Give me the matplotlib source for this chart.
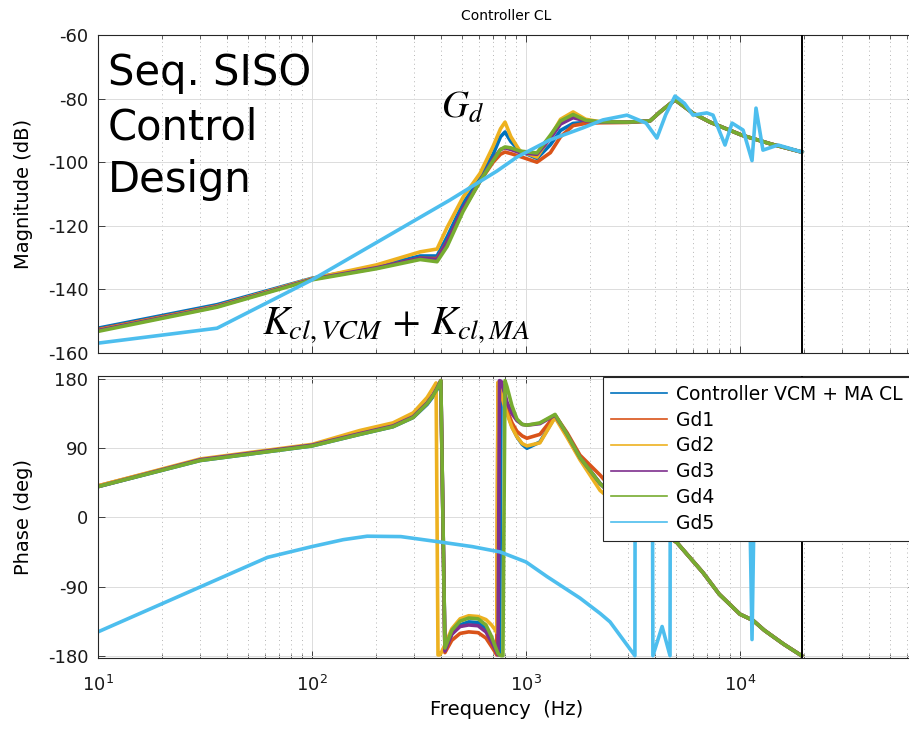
import numpy as np
import matplotlib.pyplot as plt
from matplotlib.ticker import LogLocator, NullFormatter

plt.rcParams['font.family'] = ['DejaVu Sans']
plt.rcParams['mathtext.fontset'] = 'stix'
plt.rcParams['axes.unicode_minus'] = False

labels = ['Controller VCM + MA CL', 'Gd1', 'Gd2', 'Gd3', 'Gd4', 'Gd5']
colors = ['#0072BD', '#D95319', '#EDB120', '#7E2F8E', '#77AC30', '#4DBEEE']

f_nyq = 19400

# magnitude (dB), controller + Gd1..Gd4 share the same frequency points
mag_f = [10, 36, 100, 200, 320, 384, 428, 508, 610, 702, 760, 798, 850, 937, 1125,
         1300, 1450, 1660, 1900, 2220, 3000, 3800, 4230, 4970, 6030, 7240, 10200, 14000, 19400]
mag_ctrl = [-152.2, -144.8, -136.5, -132.8, -129.5, -129.5, -123.5, -113.0, -105.0, -97.5,
            -92.0, -90.5, -93.5, -96.5, -98.8, -94.5, -90.0, -87.8, -87.5, -87.4,
            -87.4, -87.0, -84.2, -80.4, -84.6, -87.4, -91.5, -94.3, -96.8]
mag_gd1 = [-152.6, -145.2, -136.7, -133.3, -130.2, -130.3, -125.0, -115.0, -106.0, -100.0,
           -97.5, -96.8, -97.3, -98.2, -100.0, -97.0, -92.0, -88.5, -87.8, -87.6,
           -87.5, -87.0, -84.2, -80.4, -84.6, -87.4, -91.5, -94.3, -96.8]
mag_gd2 = [-152.8, -145.3, -136.6, -132.3, -128.2, -127.3, -120.5, -111.0, -103.5, -95.0,
           -89.5, -87.4, -92.0, -96.5, -98.4, -92.0, -86.5, -84.2, -86.5, -87.3,
           -87.4, -87.0, -84.2, -80.4, -84.6, -87.4, -91.5, -94.3, -96.8]
mag_gd3 = [-152.9, -145.4, -136.8, -133.2, -130.2, -130.6, -125.0, -114.5, -106.0, -99.0,
           -96.0, -95.5, -96.0, -97.0, -97.5, -92.5, -88.0, -86.0, -87.0, -87.4,
           -87.4, -87.0, -84.2, -80.4, -84.6, -87.4, -91.5, -94.3, -96.8]
mag_gd4 = [-153.2, -145.6, -137.0, -133.5, -130.6, -131.3, -126.5, -115.5, -106.0, -99.5,
           -96.0, -95.2, -95.5, -96.5, -97.1, -91.5, -87.0, -85.0, -86.8, -87.3,
           -87.4, -87.0, -84.2, -80.4, -84.6, -87.4, -91.5, -94.3, -96.8]

mag5_f = [10, 36, 100, 441, 731, 907, 1294, 1845, 2290, 2965, 3640, 4090, 4500, 4970,
          5500, 6030, 7000, 7480, 8510, 9180, 10340, 11380, 11880, 12800, 15060, 16750, 19400]
mag_gd5 = [-156.9, -152.2, -137.0, -111.9, -102.8, -98.4, -93.0, -89.2, -86.7, -85.2,
           -87.7, -92.4, -85.0, -79.2, -81.5, -85.2, -84.5, -85.2, -94.6, -87.7,
           -89.9, -99.5, -83.0, -96.2, -94.6, -95.5, -96.8]

# phase (deg), wrapped to +-180
ph_f = [10, 30, 100, 167, 239, 297, 345, 367, 380, 388, 394, 400, 418, 450, 492, 540,
        597, 650, 690, 716, 730, 740, 752, 765, 780, 798, 815, 860, 907, 960, 1010, 1161,
        1367, 1557, 1787, 2220, 3000, 4000, 5080, 6720, 8000, 10000, 11500, 13000, 16000, 19400]
ph_ctrl = [40, 74, 93, 108, 118, 130, 147, 157, 164, 169, 173, 177, -172, -152, -140, -136,
           -137, -145, -158, -168, -174, -178, -179, 176, 165, 150, 138, 118, 105, 95, 90, 98,
           131, 108, 78, 44, 10, -12, -33, -72, -100, -126, -134, -147, -165, -180]
ph_gd1 = [41, 75, 94, 109, 119, 131, 149, 159, 166, 171, 175, 178, -176, -160, -151, -149,
          -150, -157, -168, -175, -179, 172, 168, 162, 155, 147, 140, 123, 112, 106, 103, 108,
          133, 110, 81, 55, 14, -10, -33, -72, -100, -126, -134, -147, -165, -180]
ph_gd2 = [41, 76, 95, 113, 123, 136, 156, 168, 175, -179, -179, -177, -166, -145, -132, -128,
          -129, -133, -140, -146, -150, 176, 170, 162, 152, 143, 135, 117, 105, 96, 93, 97,
          130, 104, 75, 35, 5, -14, -33, -72, -100, -126, -134, -147, -165, -180]
ph_gd3 = [40, 75, 94, 109, 119, 131, 149, 159, 166, 171, 175, 178, -174, -152, -142, -140,
          -141, -149, -162, -171, -176, -179, 178, 177, 170, 160, 150, 135, 126, 121, 120, 122,
          133, 108, 78, 44, 10, -12, -33, -72, -100, -126, -134, -147, -165, -180]
ph_gd4 = [40, 74, 93, 108, 118, 130, 148, 158, 165, 170, 174, 178, -170, -147, -135, -131,
          -132, -140, -155, -167, -173, -177, -179, -180, -180, 178, 170, 145, 128, 121, 120, 123,
          134, 108, 78, 44, 10, -12, -33, -72, -100, -126, -134, -147, -165, -180]

ph5_f = [10, 62, 100, 140, 181, 260, 396, 560, 757, 1000, 1253, 1787, 2220, 2470, 3228, 3240,
         3600, 3900, 3917, 4325, 4710, 4730, 6000, 9000, 11100, 11380, 11650, 15000, 19400]
ph_gd5 = [-149, -52, -38, -29, -24.5, -25, -32, -38, -45, -58, -77, -105, -125, -136, -180, 180,
          100, 20, -180, -142, -180, 180, 90, 40, 20, -159, 20, 10, 0]

mag_series = [(mag_f, mag_ctrl), (mag_f, mag_gd1), (mag_f, mag_gd2), (mag_f, mag_gd3),
              (mag_f, mag_gd4), (mag5_f, mag_gd5)]
ph_series = [(ph_f, ph_ctrl), (ph_f, ph_gd1), (ph_f, ph_gd2), (ph_f, ph_gd3),
             (ph_f, ph_gd4), (ph5_f, ph_gd5)]

W, H = 909, 731
fig = plt.figure(figsize=(W / 100, H / 100), dpi=100)
x_right = 915
ax1 = fig.add_axes([98 / W, 1 - 353 / H, (x_right - 98) / W, (353 - 35) / H])
ax2 = fig.add_axes([98 / W, 1 - 658 / H, (x_right - 98) / W, (658 - 376) / H])
xmax = 10 ** (1 + (x_right - 98) / 214)

axc = '#262626'


def style(ax):
    ax.set_xscale('log')
    ax.set_xlim(10, xmax)
    ax.xaxis.set_minor_locator(LogLocator(base=10, subs=np.arange(2, 10) * 1.0, numticks=20))
    ax.xaxis.set_minor_formatter(NullFormatter())
    ax.tick_params(which='both', direction='in', top=True, right=True,
                   labelsize=13, colors=axc, labelcolor='#1a1a1a')
    ax.tick_params(which='major', length=5, width=0.6)
    ax.tick_params(which='minor', length=3, width=0.5)
    ax.tick_params(axis='y', pad=7)
    ax.grid(True, which='major', color='#dcdcdc', lw=0.7, ls='-')
    ax.grid(True, which='minor', axis='x', color='#b5b5b5', lw=0.7, ls=(0, (1, 3.5)))
    ax.set_axisbelow(True)
    for s in ax.spines.values():
        s.set_color(axc)
        s.set_linewidth(0.8)


for ax in (ax1, ax2):
    style(ax)

for (f, m), c, lab in zip(mag_series, colors, labels):
    ax1.plot(f, m, color=c, lw=2.6, label=lab, solid_joinstyle='round')
for (f, p), c, lab in zip(ph_series, colors, labels):
    ax2.plot(f, p, color=c, lw=2.6, label=lab, solid_joinstyle='round')

for ax in (ax1, ax2):
    ax.axvline(f_nyq, color='k', lw=1.4, zorder=5)

ax1.set_ylim(-160, -60)
ax1.set_yticks(np.arange(-160, -59, 20))
ax1.tick_params(labelbottom=False)
ax1.set_ylabel('Magnitude (dB)', fontsize=14)
ax1.yaxis.set_label_coords(-0.08, 0.5)
ax1.set_title('Controller CL', fontsize=10, pad=11)

ax2.set_ylim(-183, 184)
ax2.set_yticks([-180, -90, 0, 90, 180])
ax2.tick_params(axis='x', pad=12)
ax2.set_ylabel('Phase (deg)', fontsize=14)
ax2.yaxis.set_label_coords(-0.08, 0.5)
ax2.set_xlabel('Frequency  (Hz)', fontsize=14, labelpad=4)

leg = ax2.legend(loc='upper left', bbox_to_anchor=(603 / W, 1 - 377 / H),
                 bbox_transform=fig.transFigure, fontsize=13.5, frameon=True,
                 fancybox=False, framealpha=1, edgecolor=axc, borderpad=0.42,
                 labelspacing=0.36, handlelength=3.0, handletextpad=0.45, borderaxespad=0)
leg.get_frame().set_linewidth(0.8)
for ln in leg.get_lines():
    ln.set_linewidth(1.2)
leg.set_zorder(10)

# annotations
fig.text(108 / W, 1 - 85 / H, 'Seq. SISO', fontsize=30, va='baseline')
fig.text(108 / W, 1 - 140 / H, 'Control', fontsize=30, va='baseline')
fig.text(108 / W, 1 - 192 / H, 'Design', fontsize=30, va='baseline')
fig.text(441 / W, 1 - 118 / H, r'$G_d$', fontsize=27, va='baseline')
fig.text(262 / W, 1 - 335 / H, r'$K_{cl,VCM}\,+\,K_{cl,MA}$', fontsize=29, va='baseline')

fig.savefig('out.png', dpi=100)
